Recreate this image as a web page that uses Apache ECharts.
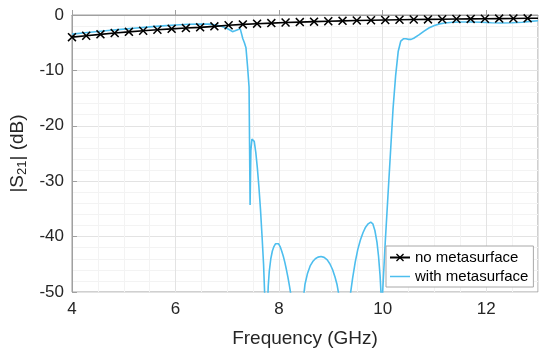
<!DOCTYPE html>
<html>
<head>
<meta charset="utf-8">
<script src="https://cdn.jsdelivr.net/npm/echarts@6/dist/echarts.min.js"></script>
<style>
html,body{margin:0;padding:0;background:#fff;}
#chart{width:550px;height:353px;}
</style>
</head>
<body>
<div id="chart"></div>
<script>
// ---- data ----
var xTicks = [4, 6, 8, 10, 12];
var yTicks = [-50, -40, -30, -20, -10, 0];

// no metasurface (markers at each point, last point without marker)
var freqNo = [4, 4.275, 4.55, 4.825, 5.1, 5.375, 5.65, 5.925, 6.2, 6.475, 6.75, 7.025, 7.3, 7.575, 7.85, 8.125, 8.4, 8.675, 8.95, 9.225, 9.5, 9.775, 10.05, 10.325, 10.6, 10.875, 11.15, 11.425, 11.7, 11.975, 12.25, 12.525, 12.8, 13];
var s21No = [-4.00, -3.74, -3.49, -3.26, -3.04, -2.84, -2.66, -2.50, -2.36, -2.23, -2.05, -1.85, -1.70, -1.57, -1.46, -1.36, -1.28, -1.20, -1.13, -1.06, -1.00, -0.95, -0.90, -0.86, -0.82, -0.79, -0.76, -0.73, -0.70, -0.68, -0.65, -0.63, -0.60, -0.58];

// with metasurface
var freqMeta = [4, 4.25, 4.5, 4.75, 5.0, 5.25, 5.5, 5.75, 6.0, 6.25, 6.5, 6.65, 6.75, 6.87, 6.97, 7.05, 7.1, 7.15, 7.2, 7.25, 7.28, 7.3, 7.33, 7.36, 7.39, 7.42, 7.44, 7.455, 7.475, 7.49, 7.52, 7.55, 7.58, 7.61, 7.64, 7.67, 7.7, 7.72, 7.74, 7.755,
  7.775, 7.79, 7.81, 7.84, 7.87, 7.9, 7.93, 7.96, 7.99, 8.02, 8.05, 8.08, 8.11, 8.14, 8.17, 8.2, 8.23, 8.27, 8.33, 8.36,
  8.4, 8.45, 8.48, 8.5, 8.55, 8.6, 8.65, 8.7, 8.75, 8.81, 8.87, 8.93, 8.98, 9.03, 9.08, 9.12, 9.15, 9.2, 9.26,
  9.31, 9.35, 9.38, 9.42, 9.47, 9.52, 9.57, 9.62, 9.67, 9.72, 9.77, 9.81, 9.85, 9.89, 9.92, 9.95, 9.97, 9.985,
  10.0, 10.05, 10.1, 10.15, 10.2, 10.25, 10.3, 10.35, 10.4, 10.45, 10.5, 10.55, 10.6, 10.7, 10.8, 10.9, 11.0, 11.1, 11.2, 11.35, 11.5, 11.7, 11.9, 12.1, 12.3, 12.5, 12.7, 12.85, 13.0];
var s21Meta = [-3.45, -3.2, -2.97, -2.75, -2.55, -2.35, -2.15, -1.97, -1.8, -1.68, -1.62, -1.65, -1.75, -2.0, -2.3, -2.7, -3.0, -2.85, -2.65, -2.5, -2.7, -4.3, -5.0, -5.9, -9.2, -13, -34.3, -24.5, -22.4, -22.1, -22.8, -24.8, -27.6, -31, -35, -39.8, -45, -50, -56, -62,
  -53, -49, -46.3, -44, -42.6, -41.8, -41.3, -41.1, -41.3, -41.8, -42.6, -43.5, -44.6, -45.9, -47.3, -48.9, -50.6, -53.5, -60, -65,
  -58, -52.5, -50.2, -48.6, -46.6, -45.3, -44.5, -44, -43.7, -43.6, -43.75, -44.2, -44.9, -45.9, -47.3, -48.7, -50.3, -54, -65,
  -56, -52, -50.2, -47.5, -44.6, -42.3, -40.6, -39.3, -38.3, -37.7, -37.4, -37.7, -38.9, -41, -43.5, -47, -50.5, -60,
  -50, -41, -33, -25, -17, -11, -6.6, -4.7, -4.3, -4.3, -4.4, -4.4, -4.2, -3.6, -2.9, -2.3, -1.9, -1.6, -1.45, -1.3, -1.25, -1.25, -1.3, -1.4, -1.45, -1.4, -1.3, -1.15, -1.05];

var seriesNames = ['no metasurface', 'with metasurface'];

// ---- build ----
var dataNo = freqNo.map(function (f, i) {
  var item = { value: [f, s21No[i]] };
  if (i === freqNo.length - 1) item.symbol = 'none';
  return item;
});
var dataMeta = freqMeta.map(function (f, i) { return [f, s21Meta[i]]; });

var FONT = '"Liberation Sans", Arial, Helvetica, sans-serif';
var xSym = 'path://M0,1.2 L1.2,0 L5,3.8 L8.8,0 L10,1.2 L6.2,5 L10,8.8 L8.8,10 L5,6.2 L1.2,10 L0,8.8 L3.8,5 Z';
var lineIcon = 'path://M0,0 L40,0 L40,3 L0,3 Z';

var chart = echarts.init(document.getElementById('chart'), null, { renderer: 'canvas' });
chart.setOption({
  animation: false,
  backgroundColor: '#ffffff',
  grid: { left: 71, right: 12, top: 15, bottom: 58, show: true, borderColor: '#a0a0a0', borderWidth: 1, backgroundColor: 'transparent' },
  xAxis: {
    type: 'value', min: xTicks[0], max: 13, interval: 2,
    name: 'Frequency (GHz)', nameLocation: 'middle', nameGap: 37,
    nameTextStyle: { fontFamily: FONT, fontSize: 19, color: '#262626' },
    axisLine: { show: true, lineStyle: { color: '#a0a0a0', width: 1 } },
    axisTick: { show: true, inside: true, length: 5, lineStyle: { color: '#a0a0a0' } },
    axisLabel: { fontFamily: FONT, fontSize: 17, color: '#262626', margin: 9, showMaxLabel: false,
      formatter: function (v) { return xTicks.indexOf(v) >= 0 ? String(v) : ''; } },
    splitLine: { show: true, lineStyle: { color: '#e3e3e3', width: 1 } },
    minorTick: { show: false, splitNumber: 4 },
    minorSplitLine: { show: true, lineStyle: { color: '#f3f3f3', width: 1 } }
  },
  yAxis: {
    type: 'value', min: yTicks[0], max: yTicks[yTicks.length - 1], interval: 10,
    name: '|S{sub|21}| (dB)', nameLocation: 'middle', nameGap: 34, nameRotate: 90,
    nameTextStyle: { fontFamily: FONT, fontSize: 19, color: '#262626',
      rich: { sub: { fontFamily: FONT, fontSize: 13, color: '#262626', verticalAlign: 'bottom', padding: [9, 0, 0, 0] } } },
    axisLine: { show: true, lineStyle: { color: '#a0a0a0', width: 1 } },
    axisTick: { show: true, inside: true, length: 5, lineStyle: { color: '#a0a0a0' } },
    axisLabel: { fontFamily: FONT, fontSize: 17, color: '#262626', margin: 8 },
    splitLine: { show: true, lineStyle: { color: '#e3e3e3', width: 1 } },
    minorTick: { show: false, splitNumber: 5 },
    minorSplitLine: { show: true, lineStyle: { color: '#f3f3f3', width: 1 } }
  },
  legend: {
    orient: 'vertical', left: 386, top: 246,
    backgroundColor: '#ffffff', borderColor: '#a8a8a8', borderWidth: 1,
    padding: [4, 5, 3, 3], itemGap: 4, itemWidth: 20, itemHeight: 10,
    textStyle: { fontFamily: FONT, fontSize: 15, color: '#000' },
    data: [
      { name: seriesNames[0] },
      { name: seriesNames[1], icon: lineIcon }
    ]
  },
  series: [
    {
      name: seriesNames[0], type: 'line', data: dataNo,
      symbol: xSym, symbolSize: 9, showSymbol: true,
      lineStyle: { color: '#000', width: 1.6 },
      itemStyle: { color: '#000' },
      z: 3
    },
    {
      name: seriesNames[1], type: 'line', data: dataMeta,
      symbol: 'none', showSymbol: false,
      lineStyle: { color: '#4DBEEE', width: 1.6 },
      itemStyle: { color: '#4DBEEE' },
      clip: true, z: 2
    }
  ]
});
</script>
</body>
</html>
